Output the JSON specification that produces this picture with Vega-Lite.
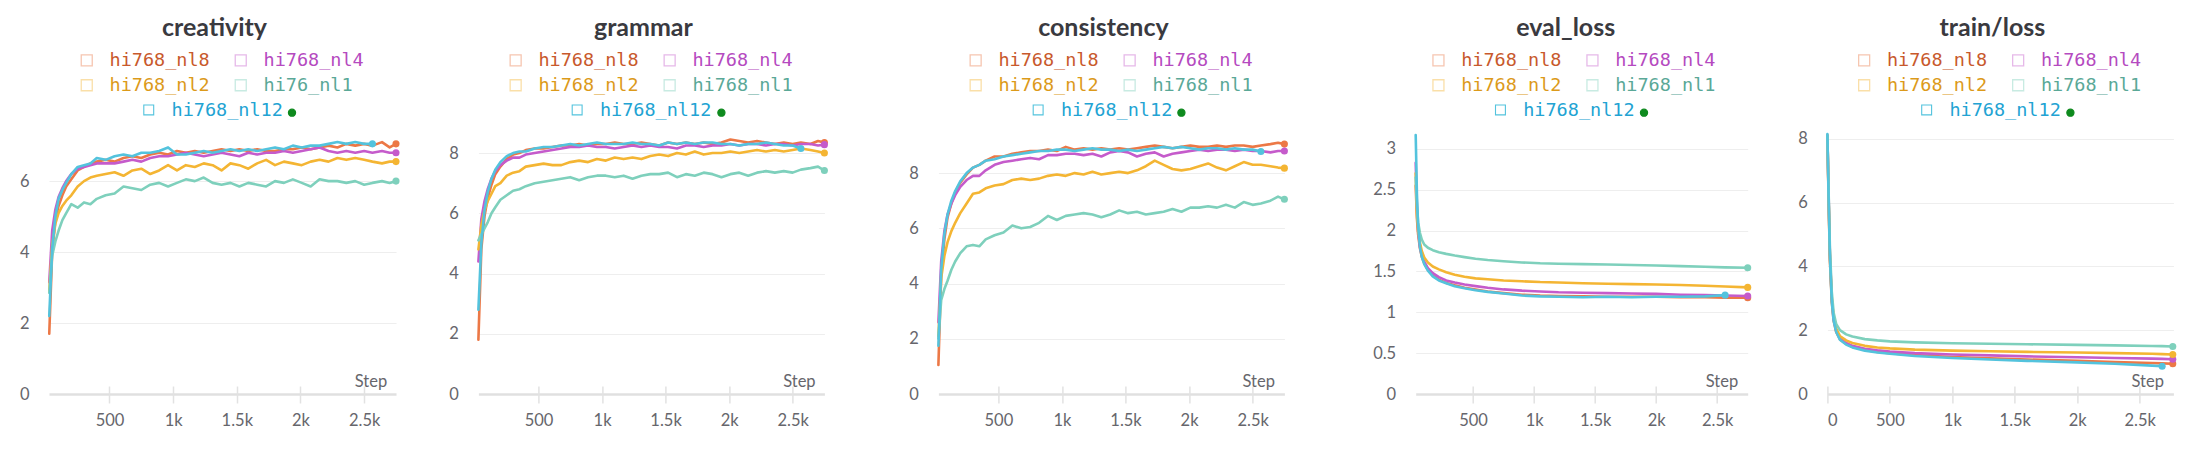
{
  "$schema": "https://vega.github.io/schema/vega-lite/v6.json",
  "padding": {"left": 19, "top": 16, "right": 0, "bottom": 0},
  "config": {
    "view": {"stroke": null},
    "font": "Lato",
    "title": {"font": "Lato", "fontSize": 25, "fontWeight": "bold", "color": "#3a3a3f", "frame": "group", "anchor": "middle", "offset": 10, "baseline": "alphabetic", "dx": -8},
    "axis": {"labelFont": "Lato", "labelFontSize": 16.5, "labelColor": "#66666c", "titleFont": "Lato", "titleFontSize": 16.5, "titleFontWeight": "normal", "titleColor": "#66666c"},
    "axisX": {"domain": false, "offset": -8, "tickSize": 17, "tickColor": "#e2e2e2", "tickWidth": 1.5, "labelPadding": 9, "grid": false, "titleAlign": "right", "titleBaseline": "alphabetic", "titleY": 0},
    "axisY": {"domain": false, "ticks": false, "labelPadding": 20},
    "legend": {"orient": "none", "direction": "horizontal", "padding": 0, "labelFont": "DejaVu Sans Mono", "labelFontSize": 18.5, "symbolType": "square", "symbolSize": 121, "symbolStrokeWidth": 1.3, "labelOffset": 13.5, "rowPadding": 6, "columnPadding": 21, "columns": 2, "labelLimit": 300}
  },
  "datasets": {
    "runs": [
      {"metric":"creativity","step":27,"nl8":1.7,"nl4":3.15,"nl2":2.9,"nl1":2.85,"nl12":2.2},
      {"metric":"creativity","step":50,"nl8":4.0,"nl4":4.6,"nl2":4.2,"nl1":3.9,"nl12":4.1},
      {"metric":"creativity","step":75,"nl8":4.9,"nl4":5.2,"nl2":4.8,"nl1":4.3,"nl12":5.0},
      {"metric":"creativity","step":100,"nl8":5.3,"nl4":5.55,"nl2":5.1,"nl1":4.6,"nl12":5.5},
      {"metric":"creativity","step":130,"nl8":5.6,"nl4":5.8,"nl2":5.3,"nl1":4.9,"nl12":5.75},
      {"metric":"creativity","step":160,"nl8":5.85,"nl4":6.0,"nl2":5.45,"nl1":5.1,"nl12":5.95},
      {"metric":"creativity","step":200,"nl8":6.05,"nl4":6.2,"nl2":5.6,"nl1":5.35,"nl12":6.2},
      {"metric":"creativity","step":250,"nl8":6.3,"nl4":6.35,"nl2":5.85,"nl1":5.25,"nl12":6.4},
      {"metric":"creativity","step":300,"nl8":6.4,"nl4":6.4,"nl2":6.0,"nl1":5.4,"nl12":6.45},
      {"metric":"creativity","step":350,"nl8":6.5,"nl4":6.45,"nl2":6.1,"nl1":5.35,"nl12":6.5},
      {"metric":"creativity","step":400,"nl8":6.55,"nl4":6.5,"nl2":6.15,"nl1":5.5,"nl12":6.65},
      {"metric":"creativity","step":470,"nl8":6.6,"nl4":6.5,"nl2":6.2,"nl1":5.6,"nl12":6.6},
      {"metric":"creativity","step":540,"nl8":6.55,"nl4":6.5,"nl2":6.25,"nl1":5.65,"nl12":6.7},
      {"metric":"creativity","step":610,"nl8":6.65,"nl4":6.55,"nl2":6.15,"nl1":5.85,"nl12":6.75},
      {"metric":"creativity","step":680,"nl8":6.7,"nl4":6.6,"nl2":6.3,"nl1":5.8,"nl12":6.7},
      {"metric":"creativity","step":750,"nl8":6.65,"nl4":6.55,"nl2":6.35,"nl1":5.75,"nl12":6.8},
      {"metric":"creativity","step":820,"nl8":6.75,"nl4":6.65,"nl2":6.2,"nl1":5.9,"nl12":6.8},
      {"metric":"creativity","step":890,"nl8":6.8,"nl4":6.7,"nl2":6.3,"nl1":5.95,"nl12":6.85},
      {"metric":"creativity","step":960,"nl8":6.75,"nl4":6.7,"nl2":6.45,"nl1":5.85,"nl12":6.95},
      {"metric":"creativity","step":1030,"nl8":6.85,"nl4":6.75,"nl2":6.3,"nl1":5.95,"nl12":6.75},
      {"metric":"creativity","step":1100,"nl8":6.8,"nl4":6.8,"nl2":6.45,"nl1":6.05,"nl12":6.75},
      {"metric":"creativity","step":1170,"nl8":6.85,"nl4":6.75,"nl2":6.4,"nl1":6.0,"nl12":6.8},
      {"metric":"creativity","step":1240,"nl8":6.8,"nl4":6.7,"nl2":6.5,"nl1":6.1,"nl12":6.85},
      {"metric":"creativity","step":1310,"nl8":6.85,"nl4":6.75,"nl2":6.45,"nl1":5.95,"nl12":6.8},
      {"metric":"creativity","step":1380,"nl8":6.9,"nl4":6.8,"nl2":6.3,"nl1":5.9,"nl12":6.85},
      {"metric":"creativity","step":1450,"nl8":6.85,"nl4":6.75,"nl2":6.5,"nl1":5.95,"nl12":6.9},
      {"metric":"creativity","step":1520,"nl8":6.9,"nl4":6.7,"nl2":6.45,"nl1":5.85,"nl12":6.85},
      {"metric":"creativity","step":1590,"nl8":6.85,"nl4":6.8,"nl2":6.35,"nl1":5.95,"nl12":6.9},
      {"metric":"creativity","step":1660,"nl8":6.9,"nl4":6.75,"nl2":6.5,"nl1":5.9,"nl12":6.85},
      {"metric":"creativity","step":1730,"nl8":6.85,"nl4":6.8,"nl2":6.6,"nl1":5.85,"nl12":6.9},
      {"metric":"creativity","step":1800,"nl8":6.85,"nl4":6.8,"nl2":6.45,"nl1":6.0,"nl12":6.95},
      {"metric":"creativity","step":1870,"nl8":6.9,"nl4":6.85,"nl2":6.55,"nl1":5.95,"nl12":6.9},
      {"metric":"creativity","step":1940,"nl8":6.9,"nl4":6.8,"nl2":6.5,"nl1":6.05,"nl12":7.0},
      {"metric":"creativity","step":2010,"nl8":6.95,"nl4":6.85,"nl2":6.45,"nl1":5.95,"nl12":6.95},
      {"metric":"creativity","step":2080,"nl8":6.9,"nl4":6.9,"nl2":6.55,"nl1":5.85,"nl12":7.0},
      {"metric":"creativity","step":2150,"nl8":6.95,"nl4":6.95,"nl2":6.6,"nl1":6.05,"nl12":7.0},
      {"metric":"creativity","step":2220,"nl8":7.0,"nl4":6.85,"nl2":6.55,"nl1":6.0,"nl12":7.05},
      {"metric":"creativity","step":2290,"nl8":6.95,"nl4":6.8,"nl2":6.65,"nl1":6.0,"nl12":7.1},
      {"metric":"creativity","step":2360,"nl8":7.05,"nl4":6.85,"nl2":6.6,"nl1":5.95,"nl12":7.05},
      {"metric":"creativity","step":2430,"nl8":7.0,"nl4":6.8,"nl2":6.65,"nl1":6.0,"nl12":7.1},
      {"metric":"creativity","step":2500,"nl8":7.05,"nl4":6.85,"nl2":6.6,"nl1":5.9,"nl12":7.05},
      {"metric":"creativity","step":2565,"nl8":7.0,"nl4":6.8,"nl2":6.55,"nl1":5.95,"nl12":7.05},
      {"metric":"creativity","step":2640,"nl8":7.1,"nl4":6.85,"nl2":6.5,"nl1":6.0},
      {"metric":"creativity","step":2700,"nl8":6.95,"nl4":6.8,"nl2":6.55,"nl1":5.95},
      {"metric":"creativity","step":2750,"nl8":7.05,"nl4":6.8,"nl2":6.55,"nl1":6.0},

      {"metric":"grammar","step":27,"nl8":1.8,"nl4":4.4,"nl2":4.8,"nl1":5.1,"nl12":2.8},
      {"metric":"grammar","step":50,"nl8":4.8,"nl4":5.8,"nl2":5.6,"nl1":5.3,"nl12":5.0},
      {"metric":"grammar","step":75,"nl8":5.9,"nl4":6.4,"nl2":6.1,"nl1":5.5,"nl12":6.1},
      {"metric":"grammar","step":100,"nl8":6.5,"nl4":6.8,"nl2":6.4,"nl1":5.7,"nl12":6.7},
      {"metric":"grammar","step":130,"nl8":6.95,"nl4":7.15,"nl2":6.65,"nl1":6.0,"nl12":7.15},
      {"metric":"grammar","step":160,"nl8":7.3,"nl4":7.4,"nl2":6.9,"nl1":6.2,"nl12":7.45},
      {"metric":"grammar","step":200,"nl8":7.55,"nl4":7.6,"nl2":7.0,"nl1":6.45,"nl12":7.7},
      {"metric":"grammar","step":250,"nl8":7.8,"nl4":7.75,"nl2":7.25,"nl1":6.6,"nl12":7.9},
      {"metric":"grammar","step":300,"nl8":7.95,"nl4":7.85,"nl2":7.35,"nl1":6.75,"nl12":8.0},
      {"metric":"grammar","step":350,"nl8":8.0,"nl4":7.85,"nl2":7.4,"nl1":6.8,"nl12":8.05},
      {"metric":"grammar","step":400,"nl8":8.1,"nl4":7.95,"nl2":7.55,"nl1":6.9,"nl12":8.05},
      {"metric":"grammar","step":470,"nl8":8.15,"nl4":8.0,"nl2":7.6,"nl1":7.0,"nl12":8.15},
      {"metric":"grammar","step":540,"nl8":8.15,"nl4":8.05,"nl2":7.65,"nl1":7.05,"nl12":8.2},
      {"metric":"grammar","step":610,"nl8":8.2,"nl4":8.1,"nl2":7.6,"nl1":7.1,"nl12":8.2},
      {"metric":"grammar","step":680,"nl8":8.25,"nl4":8.15,"nl2":7.6,"nl1":7.15,"nl12":8.25},
      {"metric":"grammar","step":750,"nl8":8.25,"nl4":8.2,"nl2":7.7,"nl1":7.2,"nl12":8.3},
      {"metric":"grammar","step":820,"nl8":8.3,"nl4":8.2,"nl2":7.75,"nl1":7.1,"nl12":8.25},
      {"metric":"grammar","step":890,"nl8":8.25,"nl4":8.25,"nl2":7.7,"nl1":7.2,"nl12":8.3},
      {"metric":"grammar","step":960,"nl8":8.3,"nl4":8.2,"nl2":7.8,"nl1":7.25,"nl12":8.35},
      {"metric":"grammar","step":1030,"nl8":8.3,"nl4":8.2,"nl2":7.75,"nl1":7.25,"nl12":8.3},
      {"metric":"grammar","step":1100,"nl8":8.35,"nl4":8.15,"nl2":7.85,"nl1":7.2,"nl12":8.3},
      {"metric":"grammar","step":1170,"nl8":8.3,"nl4":8.2,"nl2":7.8,"nl1":7.25,"nl12":8.3},
      {"metric":"grammar","step":1240,"nl8":8.3,"nl4":8.25,"nl2":7.85,"nl1":7.15,"nl12":8.35},
      {"metric":"grammar","step":1310,"nl8":8.35,"nl4":8.2,"nl2":7.8,"nl1":7.25,"nl12":8.3},
      {"metric":"grammar","step":1380,"nl8":8.3,"nl4":8.25,"nl2":7.9,"nl1":7.3,"nl12":8.3},
      {"metric":"grammar","step":1450,"nl8":8.25,"nl4":8.2,"nl2":7.95,"nl1":7.3,"nl12":8.25},
      {"metric":"grammar","step":1520,"nl8":8.35,"nl4":8.2,"nl2":7.9,"nl1":7.35,"nl12":8.35},
      {"metric":"grammar","step":1590,"nl8":8.3,"nl4":8.15,"nl2":8.0,"nl1":7.2,"nl12":8.3},
      {"metric":"grammar","step":1660,"nl8":8.35,"nl4":8.25,"nl2":7.95,"nl1":7.3,"nl12":8.35},
      {"metric":"grammar","step":1730,"nl8":8.3,"nl4":8.25,"nl2":8.05,"nl1":7.25,"nl12":8.3},
      {"metric":"grammar","step":1800,"nl8":8.35,"nl4":8.2,"nl2":7.95,"nl1":7.35,"nl12":8.35},
      {"metric":"grammar","step":1870,"nl8":8.3,"nl4":8.25,"nl2":8.0,"nl1":7.3,"nl12":8.35},
      {"metric":"grammar","step":1940,"nl8":8.35,"nl4":8.25,"nl2":8.0,"nl1":7.2,"nl12":8.3},
      {"metric":"grammar","step":2010,"nl8":8.45,"nl4":8.3,"nl2":8.05,"nl1":7.3,"nl12":8.3},
      {"metric":"grammar","step":2080,"nl8":8.4,"nl4":8.25,"nl2":8.0,"nl1":7.35,"nl12":8.25},
      {"metric":"grammar","step":2150,"nl8":8.35,"nl4":8.3,"nl2":8.05,"nl1":7.25,"nl12":8.3},
      {"metric":"grammar","step":2220,"nl8":8.4,"nl4":8.3,"nl2":8.1,"nl1":7.35,"nl12":8.3},
      {"metric":"grammar","step":2290,"nl8":8.35,"nl4":8.25,"nl2":8.05,"nl1":7.4,"nl12":8.35},
      {"metric":"grammar","step":2360,"nl8":8.3,"nl4":8.3,"nl2":8.1,"nl1":7.35,"nl12":8.3},
      {"metric":"grammar","step":2430,"nl8":8.35,"nl4":8.3,"nl2":8.05,"nl1":7.4,"nl12":8.25},
      {"metric":"grammar","step":2500,"nl8":8.3,"nl4":8.25,"nl2":8.1,"nl1":7.35,"nl12":8.25},
      {"metric":"grammar","step":2565,"nl8":8.35,"nl4":8.3,"nl2":8.15,"nl1":7.45,"nl12":8.15},
      {"metric":"grammar","step":2640,"nl8":8.3,"nl4":8.3,"nl2":8.1,"nl1":7.5},
      {"metric":"grammar","step":2700,"nl8":8.4,"nl4":8.25,"nl2":8.05,"nl1":7.55},
      {"metric":"grammar","step":2750,"nl8":8.35,"nl4":8.28,"nl2":8.0,"nl1":7.42},

      {"metric":"consistency","step":28,"nl8":1.05,"nl4":2.6,"nl2":2.1,"nl1":2.0,"nl12":1.75},
      {"metric":"consistency","step":50,"nl8":4.3,"nl4":4.8,"nl2":4.2,"nl1":3.4,"nl12":4.5},
      {"metric":"consistency","step":75,"nl8":5.6,"nl4":5.9,"nl2":5.0,"nl1":3.8,"nl12":5.8},
      {"metric":"consistency","step":100,"nl8":6.4,"nl4":6.5,"nl2":5.5,"nl1":4.1,"nl12":6.5},
      {"metric":"consistency","step":130,"nl8":6.9,"nl4":6.9,"nl2":5.9,"nl1":4.5,"nl12":7.0},
      {"metric":"consistency","step":160,"nl8":7.3,"nl4":7.2,"nl2":6.2,"nl1":4.8,"nl12":7.35},
      {"metric":"consistency","step":200,"nl8":7.65,"nl4":7.5,"nl2":6.55,"nl1":5.1,"nl12":7.7},
      {"metric":"consistency","step":250,"nl8":7.95,"nl4":7.75,"nl2":6.9,"nl1":5.35,"nl12":8.0},
      {"metric":"consistency","step":300,"nl8":8.2,"nl4":7.9,"nl2":7.25,"nl1":5.4,"nl12":8.2},
      {"metric":"consistency","step":350,"nl8":8.3,"nl4":7.9,"nl2":7.3,"nl1":5.35,"nl12":8.3},
      {"metric":"consistency","step":400,"nl8":8.45,"nl4":8.1,"nl2":7.45,"nl1":5.6,"nl12":8.45},
      {"metric":"consistency","step":470,"nl8":8.6,"nl4":8.3,"nl2":7.55,"nl1":5.75,"nl12":8.5},
      {"metric":"consistency","step":540,"nl8":8.6,"nl4":8.4,"nl2":7.6,"nl1":5.85,"nl12":8.6},
      {"metric":"consistency","step":610,"nl8":8.7,"nl4":8.45,"nl2":7.75,"nl1":6.1,"nl12":8.65},
      {"metric":"consistency","step":680,"nl8":8.75,"nl4":8.5,"nl2":7.8,"nl1":6.0,"nl12":8.7},
      {"metric":"consistency","step":750,"nl8":8.8,"nl4":8.55,"nl2":7.75,"nl1":6.05,"nl12":8.75},
      {"metric":"consistency","step":820,"nl8":8.8,"nl4":8.5,"nl2":7.8,"nl1":6.2,"nl12":8.8},
      {"metric":"consistency","step":890,"nl8":8.85,"nl4":8.65,"nl2":7.9,"nl1":6.45,"nl12":8.8},
      {"metric":"consistency","step":960,"nl8":8.8,"nl4":8.65,"nl2":7.95,"nl1":6.3,"nl12":8.85},
      {"metric":"consistency","step":1030,"nl8":8.95,"nl4":8.7,"nl2":7.9,"nl1":6.45,"nl12":8.85},
      {"metric":"consistency","step":1100,"nl8":8.85,"nl4":8.7,"nl2":8.0,"nl1":6.5,"nl12":8.8},
      {"metric":"consistency","step":1170,"nl8":8.9,"nl4":8.65,"nl2":7.95,"nl1":6.55,"nl12":8.85},
      {"metric":"consistency","step":1240,"nl8":8.85,"nl4":8.7,"nl2":8.05,"nl1":6.5,"nl12":8.9},
      {"metric":"consistency","step":1310,"nl8":8.9,"nl4":8.6,"nl2":7.95,"nl1":6.4,"nl12":8.85},
      {"metric":"consistency","step":1380,"nl8":8.85,"nl4":8.75,"nl2":8.0,"nl1":6.5,"nl12":8.85},
      {"metric":"consistency","step":1450,"nl8":8.9,"nl4":8.8,"nl2":8.05,"nl1":6.65,"nl12":8.8},
      {"metric":"consistency","step":1520,"nl8":8.85,"nl4":8.75,"nl2":8.0,"nl1":6.55,"nl12":8.85},
      {"metric":"consistency","step":1590,"nl8":8.9,"nl4":8.6,"nl2":8.1,"nl1":6.6,"nl12":8.8},
      {"metric":"consistency","step":1660,"nl8":8.95,"nl4":8.7,"nl2":8.25,"nl1":6.5,"nl12":8.85},
      {"metric":"consistency","step":1730,"nl8":9.0,"nl4":8.75,"nl2":8.45,"nl1":6.55,"nl12":8.9},
      {"metric":"consistency","step":1800,"nl8":8.95,"nl4":8.6,"nl2":8.3,"nl1":6.6,"nl12":8.95},
      {"metric":"consistency","step":1870,"nl8":8.9,"nl4":8.7,"nl2":8.15,"nl1":6.7,"nl12":8.9},
      {"metric":"consistency","step":1940,"nl8":8.95,"nl4":8.75,"nl2":8.1,"nl1":6.6,"nl12":8.95},
      {"metric":"consistency","step":2010,"nl8":9.0,"nl4":8.8,"nl2":8.15,"nl1":6.75,"nl12":8.9},
      {"metric":"consistency","step":2080,"nl8":8.95,"nl4":8.85,"nl2":8.25,"nl1":6.75,"nl12":8.85},
      {"metric":"consistency","step":2150,"nl8":8.95,"nl4":8.8,"nl2":8.35,"nl1":6.8,"nl12":8.9},
      {"metric":"consistency","step":2220,"nl8":9.0,"nl4":8.85,"nl2":8.2,"nl1":6.75,"nl12":8.9},
      {"metric":"consistency","step":2290,"nl8":8.95,"nl4":8.85,"nl2":8.1,"nl1":6.85,"nl12":8.85},
      {"metric":"consistency","step":2360,"nl8":9.0,"nl4":8.8,"nl2":8.25,"nl1":6.75,"nl12":8.9},
      {"metric":"consistency","step":2430,"nl8":9.0,"nl4":8.85,"nl2":8.4,"nl1":6.95,"nl12":8.85},
      {"metric":"consistency","step":2500,"nl8":8.95,"nl4":8.8,"nl2":8.3,"nl1":6.85,"nl12":8.85},
      {"metric":"consistency","step":2565,"nl8":9.0,"nl4":8.8,"nl2":8.3,"nl1":6.9,"nl12":8.78},
      {"metric":"consistency","step":2640,"nl8":9.05,"nl4":8.75,"nl2":8.25,"nl1":7.0},
      {"metric":"consistency","step":2700,"nl8":9.1,"nl4":8.8,"nl2":8.2,"nl1":7.15},
      {"metric":"consistency","step":2750,"nl8":9.05,"nl4":8.8,"nl2":8.18,"nl1":7.05},

      {"metric":"eval_loss","step":30,"nl8":2.55,"nl4":2.83,"nl2":2.7,"nl1":2.65,"nl12":3.17},
      {"metric":"eval_loss","step":40,"nl8":2.15,"nl4":2.3,"nl2":2.2,"nl1":2.3,"nl12":2.45},
      {"metric":"eval_loss","step":50,"nl8":1.95,"nl4":2.0,"nl2":2.0,"nl1":2.1,"nl12":2.05},
      {"metric":"eval_loss","step":65,"nl8":1.78,"nl4":1.8,"nl2":1.85,"nl1":1.97,"nl12":1.8},
      {"metric":"eval_loss","step":80,"nl8":1.68,"nl4":1.7,"nl2":1.75,"nl1":1.89,"nl12":1.68},
      {"metric":"eval_loss","step":100,"nl8":1.6,"nl4":1.62,"nl2":1.67,"nl1":1.83,"nl12":1.59},
      {"metric":"eval_loss","step":130,"nl8":1.52,"nl4":1.54,"nl2":1.61,"nl1":1.79,"nl12":1.51},
      {"metric":"eval_loss","step":170,"nl8":1.45,"nl4":1.48,"nl2":1.56,"nl1":1.76,"nl12":1.44},
      {"metric":"eval_loss","step":220,"nl8":1.4,"nl4":1.43,"nl2":1.525,"nl1":1.735,"nl12":1.39},
      {"metric":"eval_loss","step":280,"nl8":1.36,"nl4":1.39,"nl2":1.49,"nl1":1.715,"nl12":1.355},
      {"metric":"eval_loss","step":350,"nl8":1.33,"nl4":1.365,"nl2":1.46,"nl1":1.695,"nl12":1.32},
      {"metric":"eval_loss","step":430,"nl8":1.3,"nl4":1.34,"nl2":1.435,"nl1":1.675,"nl12":1.295},
      {"metric":"eval_loss","step":520,"nl8":1.28,"nl4":1.32,"nl2":1.415,"nl1":1.655,"nl12":1.27},
      {"metric":"eval_loss","step":620,"nl8":1.255,"nl4":1.3,"nl2":1.405,"nl1":1.64,"nl12":1.25},
      {"metric":"eval_loss","step":750,"nl8":1.235,"nl4":1.28,"nl2":1.39,"nl1":1.625,"nl12":1.23},
      {"metric":"eval_loss","step":900,"nl8":1.215,"nl4":1.265,"nl2":1.38,"nl1":1.61,"nl12":1.205},
      {"metric":"eval_loss","step":1050,"nl8":1.205,"nl4":1.255,"nl2":1.37,"nl1":1.6,"nl12":1.195},
      {"metric":"eval_loss","step":1200,"nl8":1.2,"nl4":1.245,"nl2":1.365,"nl1":1.595,"nl12":1.19},
      {"metric":"eval_loss","step":1400,"nl8":1.195,"nl4":1.24,"nl2":1.355,"nl1":1.59,"nl12":1.185},
      {"metric":"eval_loss","step":1600,"nl8":1.19,"nl4":1.235,"nl2":1.35,"nl1":1.585,"nl12":1.19},
      {"metric":"eval_loss","step":1800,"nl8":1.19,"nl4":1.23,"nl2":1.345,"nl1":1.578,"nl12":1.185},
      {"metric":"eval_loss","step":2000,"nl8":1.19,"nl4":1.225,"nl2":1.34,"nl1":1.572,"nl12":1.19},
      {"metric":"eval_loss","step":2200,"nl8":1.185,"nl4":1.215,"nl2":1.335,"nl1":1.565,"nl12":1.19},
      {"metric":"eval_loss","step":2400,"nl8":1.185,"nl4":1.21,"nl2":1.325,"nl1":1.558,"nl12":1.195},
      {"metric":"eval_loss","step":2565,"nl8":1.18,"nl4":1.205,"nl2":1.315,"nl1":1.55,"nl12":1.21},
      {"metric":"eval_loss","step":2750,"nl8":1.178,"nl4":1.2,"nl2":1.305,"nl1":1.545},

      {"metric":"train/loss","step":0,"nl8":8.1,"nl4":8.1,"nl2":8.1,"nl1":8.1,"nl12":8.15},
      {"metric":"train/loss","step":10,"nl8":6.0,"nl4":6.2,"nl2":6.1,"nl1":6.3,"nl12":6.1},
      {"metric":"train/loss","step":20,"nl8":4.2,"nl4":4.4,"nl2":4.3,"nl1":4.6,"nl12":4.3},
      {"metric":"train/loss","step":35,"nl8":2.9,"nl4":3.0,"nl2":3.0,"nl1":3.2,"nl12":2.9},
      {"metric":"train/loss","step":50,"nl8":2.3,"nl4":2.35,"nl2":2.4,"nl1":2.55,"nl12":2.3},
      {"metric":"train/loss","step":70,"nl8":1.95,"nl4":2.0,"nl2":2.05,"nl1":2.2,"nl12":1.95},
      {"metric":"train/loss","step":100,"nl8":1.72,"nl4":1.75,"nl2":1.82,"nl1":2.0,"nl12":1.7},
      {"metric":"train/loss","step":150,"nl8":1.57,"nl4":1.6,"nl2":1.68,"nl1":1.87,"nl12":1.55},
      {"metric":"train/loss","step":200,"nl8":1.48,"nl4":1.51,"nl2":1.6,"nl1":1.8,"nl12":1.46},
      {"metric":"train/loss","step":300,"nl8":1.38,"nl4":1.42,"nl2":1.51,"nl1":1.72,"nl12":1.36},
      {"metric":"train/loss","step":400,"nl8":1.32,"nl4":1.37,"nl2":1.46,"nl1":1.68,"nl12":1.3},
      {"metric":"train/loss","step":500,"nl8":1.28,"nl4":1.33,"nl2":1.43,"nl1":1.65,"nl12":1.26},
      {"metric":"train/loss","step":700,"nl8":1.22,"nl4":1.28,"nl2":1.39,"nl1":1.62,"nl12":1.19},
      {"metric":"train/loss","step":1000,"nl8":1.16,"nl4":1.24,"nl2":1.36,"nl1":1.59,"nl12":1.13},
      {"metric":"train/loss","step":1300,"nl8":1.12,"nl4":1.21,"nl2":1.34,"nl1":1.575,"nl12":1.08},
      {"metric":"train/loss","step":1600,"nl8":1.08,"nl4":1.18,"nl2":1.32,"nl1":1.56,"nl12":1.04},
      {"metric":"train/loss","step":2000,"nl8":1.04,"nl4":1.15,"nl2":1.3,"nl1":1.54,"nl12":0.99},
      {"metric":"train/loss","step":2300,"nl8":1.0,"nl4":1.13,"nl2":1.28,"nl1":1.525,"nl12":0.95},
      {"metric":"train/loss","step":2600,"nl8":0.97,"nl4":1.11,"nl2":1.26,"nl1":1.505,"nl12":0.89},
      {"metric":"train/loss","step":2680,"nl8":0.96,"nl4":1.1,"nl2":1.25,"nl1":1.5,"nl12":0.87},
      {"metric":"train/loss","step":2765,"nl8":0.95,"nl4":1.09,"nl2":1.24,"nl1":1.49}
    ]
  },
  "resolve": {"scale": {"x": "independent", "y": "independent", "color": "independent", "fill": "independent", "shape": "independent"}, "legend": {"color": "independent", "fill": "independent", "shape": "independent"}},
  "spacing": 45.4,
  "hconcat": [
    {
      "resolve": {"scale": {"x": "independent", "y": "independent", "color": "independent", "fill": "independent", "shape": "independent"}, "legend": {"color": "independent", "fill": "independent", "shape": "independent"}},
      "spacing": 83.7,
      "hconcat": [
        {
          "resolve": {"scale": {"x": "independent", "y": "independent", "color": "independent", "fill": "independent", "shape": "independent"}, "legend": {"color": "independent", "fill": "independent", "shape": "independent"}},
          "spacing": 80.4,
          "hconcat": [
            {
              "resolve": {"scale": {"x": "independent", "y": "independent", "color": "independent", "fill": "independent", "shape": "independent"}, "legend": {"color": "independent", "fill": "independent", "shape": "independent"}},
              "spacing": 48.4,
              "hconcat": [
                {
                  "title": {"text": "creativity"},
                  "width": 347, "height": 259,
                  "data": {"name": "runs"},
                  "transform": [
                    {"filter": "datum.metric === 'creativity'"},
                    {"fold": ["nl8", "nl4", "nl2", "nl1", "nl12"], "as": ["series", "value"]},
                    {"filter": "isValid(datum.value)"}
                  ],
                  "encoding": {
                    "x": {"field": "step", "type": "quantitative", "scale": {"domain": [25, 2750], "nice": false, "zero": false}, "axis": {"title": "Step", "values": [500, 1000, 1500, 2000, 2500], "labelExpr": "datum.value >= 1000 ? (datum.value / 1000) + 'k' : datum.label", "titleX": 337.7}},
                    "y": {"field": "value", "type": "quantitative", "scale": {"domain": [0, 7.3], "nice": false}, "axis": {"title": null, "values": [0, 2, 4, 6], "gridColor": {"condition": {"test": "datum.value === 0", "value": "#e0e0e0"}, "value": "#eeeeee"}, "gridWidth": {"condition": {"test": "datum.value === 0", "value": 2.5}, "value": 1.2}}}
                  },
                  "layer": [
                    {
                      "mark": {"type": "line", "strokeWidth": 2.6, "strokeJoin": "round", "strokeCap": "round"},
                      "encoding": {"color": {"field": "series", "type": "nominal", "scale": {"domain": ["nl8", "nl4", "nl2", "nl1", "nl12"], "range": ["#EC7846", "#C55BCB", "#F4B533", "#7ED0BC", "#53C3DD"]},
                        "legend": {"title": null, "values": ["nl8", "nl4", "nl2", "nl1"], "legendX": 28.5, "legendY": -84, "labelExpr": "datum.label === 'nl1' ? 'hi76_nl1' : 'hi768_' + datum.label",
                          "encode": {"labels": {"update": {"fill": {"signal": "datum.value==='nl8'?'#C8592C':datum.value==='nl4'?'#B54AC0':datum.value==='nl2'?'#DC9A1A':datum.value==='nl1'?'#5AA897':'#22A3D3'"}}},
                                     "symbols": {"update": {"fill": {"signal": "'transparent'"}, "strokeWidth": {"signal": "1.3"}, "opacity": {"signal": "0.42"}}}}}}}
                    },
                    {
                      "transform": [{"joinaggregate": [{"op": "max", "field": "step", "as": "last"}], "groupby": ["series"]}, {"filter": "datum.step === datum.last"}],
                      "mark": {"type": "point", "filled": true, "opacity": 1, "size": 50, "strokeWidth": 0},
                      "encoding": {
                        "fill": {"field": "series", "type": "nominal", "scale": {"domain": ["nl12", "nl8", "nl4", "nl2", "nl1"], "range": ["#53C3DD", "#EC7846", "#C55BCB", "#F4B533", "#7ED0BC"]},
                          "legend": {"title": null, "values": ["nl12"], "legendX": 90.5, "legendY": -34.5, "labelExpr": "'hi768_' + datum.label", "labelColor": "#22A3D3", "symbolType": "M-1,-1H1V1H-1Z M-0.8,-0.8V0.8H0.8V-0.8Z",
                            "encode": {"labels": {"update": {"fill": {"signal": "'#22A3D3'"}}}, "symbols": {"update": {"stroke": {"signal": "'transparent'"}, "opacity": {"signal": "0.45"}}}}}},
                        "shape": {"field": "series", "type": "nominal", "scale": {"domain": ["nl12", "nl1", "nl2", "nl4", "nl8"], "range": ["circle", "circle", "circle", "circle", "circle"]},
                          "legend": {"title": null, "values": ["nl12"], "legendX": 238.5, "legendY": -27, "labelExpr": "''", "labelFontSize": 1, "labelOffset": 0, "symbolSize": 50, "symbolType": "circle", "symbolFillColor": "#0E8A1E", "symbolStrokeColor": "#0E8A1E",
                            "encode": {"symbols": {"update": {"fill": {"signal": "'#0E8A1E'"}, "stroke": {"signal": "'#0E8A1E'"}, "opacity": {"signal": "1"}}}}}}
                      }
                    }
                  ]
                },
                {
                  "title": {"text": "grammar"},
                  "width": 346, "height": 259,
                  "data": {"name": "runs"},
                  "transform": [
                    {"filter": "datum.metric === 'grammar'"},
                    {"fold": ["nl8", "nl4", "nl2", "nl1", "nl12"], "as": ["series", "value"]},
                    {"filter": "isValid(datum.value)"}
                  ],
                  "encoding": {
                    "x": {"field": "step", "type": "quantitative", "scale": {"domain": [27, 2750], "nice": false, "zero": false}, "axis": {"title": "Step", "values": [500, 1000, 1500, 2000, 2500], "labelExpr": "datum.value >= 1000 ? (datum.value / 1000) + 'k' : datum.label", "titleX": 336.7}},
                    "y": {"field": "value", "type": "quantitative", "scale": {"domain": [0, 8.6], "nice": false}, "axis": {"title": null, "values": [0, 2, 4, 6, 8], "gridColor": {"condition": {"test": "datum.value === 0", "value": "#e0e0e0"}, "value": "#eeeeee"}, "gridWidth": {"condition": {"test": "datum.value === 0", "value": 2.5}, "value": 1.2}}}
                  },
                  "layer": [
                    {
                      "mark": {"type": "line", "strokeWidth": 2.6, "strokeJoin": "round", "strokeCap": "round"},
                      "encoding": {"color": {"field": "series", "type": "nominal", "scale": {"domain": ["nl8", "nl4", "nl2", "nl1", "nl12"], "range": ["#EC7846", "#C55BCB", "#F4B533", "#7ED0BC", "#53C3DD"]},
                        "legend": {"title": null, "values": ["nl8", "nl4", "nl2", "nl1"], "legendX": 28, "legendY": -84, "labelExpr": "'hi768_' + datum.label",
                          "encode": {"labels": {"update": {"fill": {"signal": "datum.value==='nl8'?'#C8592C':datum.value==='nl4'?'#B54AC0':datum.value==='nl2'?'#DC9A1A':datum.value==='nl1'?'#5AA897':'#22A3D3'"}}},
                                     "symbols": {"update": {"fill": {"signal": "'transparent'"}, "strokeWidth": {"signal": "1.3"}, "opacity": {"signal": "0.42"}}}}}}}
                    },
                    {
                      "transform": [{"joinaggregate": [{"op": "max", "field": "step", "as": "last"}], "groupby": ["series"]}, {"filter": "datum.step === datum.last"}],
                      "mark": {"type": "point", "filled": true, "opacity": 1, "size": 50, "strokeWidth": 0},
                      "encoding": {
                        "fill": {"field": "series", "type": "nominal", "scale": {"domain": ["nl12", "nl8", "nl4", "nl2", "nl1"], "range": ["#53C3DD", "#EC7846", "#C55BCB", "#F4B533", "#7ED0BC"]},
                          "legend": {"title": null, "values": ["nl12"], "legendX": 89.5, "legendY": -34.5, "labelExpr": "'hi768_' + datum.label", "labelColor": "#22A3D3", "symbolType": "M-1,-1H1V1H-1Z M-0.8,-0.8V0.8H0.8V-0.8Z",
                            "encode": {"labels": {"update": {"fill": {"signal": "'#22A3D3'"}}}, "symbols": {"update": {"stroke": {"signal": "'transparent'"}, "opacity": {"signal": "0.45"}}}}}},
                        "shape": {"field": "series", "type": "nominal", "scale": {"domain": ["nl12", "nl1", "nl2", "nl4", "nl8"], "range": ["circle", "circle", "circle", "circle", "circle"]},
                          "legend": {"title": null, "values": ["nl12"], "legendX": 238.5, "legendY": -27, "labelExpr": "''", "labelFontSize": 1, "labelOffset": 0, "symbolSize": 50, "symbolType": "circle", "symbolFillColor": "#0E8A1E", "symbolStrokeColor": "#0E8A1E",
                            "encode": {"symbols": {"update": {"fill": {"signal": "'#0E8A1E'"}, "stroke": {"signal": "'#0E8A1E'"}, "opacity": {"signal": "1"}}}}}}
                      }
                    }
                  ]
                }
              ]
            },
            {
              "title": {"text": "consistency"},
              "width": 346, "height": 259,
              "data": {"name": "runs"},
              "transform": [
                {"filter": "datum.metric === 'consistency'"},
                {"fold": ["nl8", "nl4", "nl2", "nl1", "nl12"], "as": ["series", "value"]},
                {"filter": "isValid(datum.value)"}
              ],
              "encoding": {
                "x": {"field": "step", "type": "quantitative", "scale": {"domain": [28, 2750], "nice": false, "zero": false}, "axis": {"title": "Step", "values": [500, 1000, 1500, 2000, 2500], "labelExpr": "datum.value >= 1000 ? (datum.value / 1000) + 'k' : datum.label", "titleX": 336}},
                "y": {"field": "value", "type": "quantitative", "scale": {"domain": [0, 9.38], "nice": false}, "axis": {"title": null, "values": [0, 2, 4, 6, 8], "gridColor": {"condition": {"test": "datum.value === 0", "value": "#e0e0e0"}, "value": "#eeeeee"}, "gridWidth": {"condition": {"test": "datum.value === 0", "value": 2.5}, "value": 1.2}}}
              },
              "layer": [
                {
                  "mark": {"type": "line", "strokeWidth": 2.6, "strokeJoin": "round", "strokeCap": "round"},
                  "encoding": {"color": {"field": "series", "type": "nominal", "scale": {"domain": ["nl8", "nl4", "nl2", "nl1", "nl12"], "range": ["#EC7846", "#C55BCB", "#F4B533", "#7ED0BC", "#53C3DD"]},
                    "legend": {"title": null, "values": ["nl8", "nl4", "nl2", "nl1"], "legendX": 28, "legendY": -84, "labelExpr": "'hi768_' + datum.label",
                      "encode": {"labels": {"update": {"fill": {"signal": "datum.value==='nl8'?'#C8592C':datum.value==='nl4'?'#B54AC0':datum.value==='nl2'?'#DC9A1A':datum.value==='nl1'?'#5AA897':'#22A3D3'"}}},
                                 "symbols": {"update": {"fill": {"signal": "'transparent'"}, "strokeWidth": {"signal": "1.3"}, "opacity": {"signal": "0.42"}}}}}}}
                },
                {
                  "transform": [{"joinaggregate": [{"op": "max", "field": "step", "as": "last"}], "groupby": ["series"]}, {"filter": "datum.step === datum.last"}],
                  "mark": {"type": "point", "filled": true, "opacity": 1, "size": 50, "strokeWidth": 0},
                  "encoding": {
                    "fill": {"field": "series", "type": "nominal", "scale": {"domain": ["nl12", "nl8", "nl4", "nl2", "nl1"], "range": ["#53C3DD", "#EC7846", "#C55BCB", "#F4B533", "#7ED0BC"]},
                      "legend": {"title": null, "values": ["nl12"], "legendX": 90.5, "legendY": -34.5, "labelExpr": "'hi768_' + datum.label", "labelColor": "#22A3D3", "symbolType": "M-1,-1H1V1H-1Z M-0.8,-0.8V0.8H0.8V-0.8Z",
                        "encode": {"labels": {"update": {"fill": {"signal": "'#22A3D3'"}}}, "symbols": {"update": {"stroke": {"signal": "'transparent'"}, "opacity": {"signal": "0.45"}}}}}},
                    "shape": {"field": "series", "type": "nominal", "scale": {"domain": ["nl12", "nl1", "nl2", "nl4", "nl8"], "range": ["circle", "circle", "circle", "circle", "circle"]},
                      "legend": {"title": null, "values": ["nl12"], "legendX": 238.5, "legendY": -27, "labelExpr": "''", "labelFontSize": 1, "labelOffset": 0, "symbolSize": 50, "symbolType": "circle", "symbolFillColor": "#0E8A1E", "symbolStrokeColor": "#0E8A1E",
                        "encode": {"symbols": {"update": {"fill": {"signal": "'#0E8A1E'"}, "stroke": {"signal": "'#0E8A1E'"}, "opacity": {"signal": "1"}}}}}}
                  }
                }
              ]
            }
          ]
        },
        {
          "title": {"text": "eval_loss", "dx": -16},
          "width": 332, "height": 259,
          "data": {"name": "runs"},
          "transform": [
            {"filter": "datum.metric === 'eval_loss'"},
            {"fold": ["nl8", "nl4", "nl2", "nl1", "nl12"], "as": ["series", "value"]},
            {"filter": "isValid(datum.value)"}
          ],
          "encoding": {
            "x": {"field": "step", "type": "quantitative", "scale": {"domain": [30, 2750], "nice": false, "zero": false}, "axis": {"title": "Step", "values": [500, 1000, 1500, 2000, 2500], "labelExpr": "datum.value >= 1000 ? (datum.value / 1000) + 'k' : datum.label", "titleX": 322}},
            "y": {"field": "value", "type": "quantitative", "scale": {"domain": [0, 3.17], "nice": false}, "axis": {"title": null, "values": [0, 0.5, 1, 1.5, 2, 2.5, 3], "labelExpr": "'' + datum.value", "gridColor": {"condition": {"test": "datum.value === 0", "value": "#e0e0e0"}, "value": "#eeeeee"}, "gridWidth": {"condition": {"test": "datum.value === 0", "value": 2.5}, "value": 1.2}}}
          },
          "layer": [
            {
              "mark": {"type": "line", "strokeWidth": 2.6, "strokeJoin": "round", "strokeCap": "round"},
              "encoding": {"color": {"field": "series", "type": "nominal", "scale": {"domain": ["nl8", "nl4", "nl2", "nl1", "nl12"], "range": ["#EC7846", "#C55BCB", "#F4B533", "#7ED0BC", "#53C3DD"]},
                "legend": {"title": null, "values": ["nl8", "nl4", "nl2", "nl1"], "legendX": 13.5, "legendY": -84, "labelExpr": "'hi768_' + datum.label",
                  "encode": {"labels": {"update": {"fill": {"signal": "datum.value==='nl8'?'#C8592C':datum.value==='nl4'?'#B54AC0':datum.value==='nl2'?'#DC9A1A':datum.value==='nl1'?'#5AA897':'#22A3D3'"}}},
                             "symbols": {"update": {"fill": {"signal": "'transparent'"}, "strokeWidth": {"signal": "1.3"}, "opacity": {"signal": "0.42"}}}}}}}
            },
            {
              "transform": [{"joinaggregate": [{"op": "max", "field": "step", "as": "last"}], "groupby": ["series"]}, {"filter": "datum.step === datum.last"}],
              "mark": {"type": "point", "filled": true, "opacity": 1, "size": 50, "strokeWidth": 0},
              "encoding": {
                "fill": {"field": "series", "type": "nominal", "scale": {"domain": ["nl12", "nl8", "nl4", "nl2", "nl1"], "range": ["#53C3DD", "#EC7846", "#C55BCB", "#F4B533", "#7ED0BC"]},
                  "legend": {"title": null, "values": ["nl12"], "legendX": 75.5, "legendY": -34.5, "labelExpr": "'hi768_' + datum.label", "labelColor": "#22A3D3", "symbolType": "M-1,-1H1V1H-1Z M-0.8,-0.8V0.8H0.8V-0.8Z",
                    "encode": {"labels": {"update": {"fill": {"signal": "'#22A3D3'"}}}, "symbols": {"update": {"stroke": {"signal": "'transparent'"}, "opacity": {"signal": "0.45"}}}}}},
                "shape": {"field": "series", "type": "nominal", "scale": {"domain": ["nl12", "nl1", "nl2", "nl4", "nl8"], "range": ["circle", "circle", "circle", "circle", "circle"]},
                  "legend": {"title": null, "values": ["nl12"], "legendX": 223.8, "legendY": -27, "labelExpr": "''", "labelFontSize": 1, "labelOffset": 0, "symbolSize": 50, "symbolType": "circle", "symbolFillColor": "#0E8A1E", "symbolStrokeColor": "#0E8A1E",
                    "encode": {"symbols": {"update": {"fill": {"signal": "'#0E8A1E'"}, "stroke": {"signal": "'#0E8A1E'"}, "opacity": {"signal": "1"}}}}}}
              }
            }
          ]
        }
      ]
    },
    {
      "title": {"text": "train/loss"},
      "width": 346, "height": 259,
      "data": {"name": "runs"},
      "transform": [
        {"filter": "datum.metric === 'train/loss'"},
        {"fold": ["nl8", "nl4", "nl2", "nl1", "nl12"], "as": ["series", "value"]},
        {"filter": "isValid(datum.value)"}
      ],
      "encoding": {
        "x": {"field": "step", "type": "quantitative", "scale": {"domain": [0, 2770], "nice": false, "zero": false}, "axis": {"title": "Step", "values": [0, 500, 1000, 1500, 2000, 2500], "labelExpr": "datum.value >= 1000 ? (datum.value / 1000) + 'k' : datum.label", "titleX": 336}},
        "y": {"field": "value", "type": "quantitative", "scale": {"domain": [0, 8.12], "nice": false}, "axis": {"title": null, "values": [0, 2, 4, 6, 8], "gridColor": {"condition": {"test": "datum.value === 0", "value": "#e0e0e0"}, "value": "#eeeeee"}, "gridWidth": {"condition": {"test": "datum.value === 0", "value": 2.5}, "value": 1.2}}}
      },
      "layer": [
        {
          "mark": {"type": "line", "strokeWidth": 2.6, "strokeJoin": "round", "strokeCap": "round"},
          "encoding": {"color": {"field": "series", "type": "nominal", "scale": {"domain": ["nl8", "nl4", "nl2", "nl1", "nl12"], "range": ["#EC7846", "#C55BCB", "#F4B533", "#7ED0BC", "#53C3DD"]},
            "legend": {"title": null, "values": ["nl8", "nl4", "nl2", "nl1"], "legendX": 27.5, "legendY": -84, "labelExpr": "'hi768_' + datum.label",
              "encode": {"labels": {"update": {"fill": {"signal": "datum.value==='nl8'?'#C8592C':datum.value==='nl4'?'#B54AC0':datum.value==='nl2'?'#DC9A1A':datum.value==='nl1'?'#5AA897':'#22A3D3'"}}},
                         "symbols": {"update": {"fill": {"signal": "'transparent'"}, "strokeWidth": {"signal": "1.3"}, "opacity": {"signal": "0.42"}}}}}}}
        },
        {
          "transform": [{"joinaggregate": [{"op": "max", "field": "step", "as": "last"}], "groupby": ["series"]}, {"filter": "datum.step === datum.last"}],
          "mark": {"type": "point", "filled": true, "opacity": 1, "size": 50, "strokeWidth": 0},
          "encoding": {
            "fill": {"field": "series", "type": "nominal", "scale": {"domain": ["nl12", "nl8", "nl4", "nl2", "nl1"], "range": ["#53C3DD", "#EC7846", "#C55BCB", "#F4B533", "#7ED0BC"]},
              "legend": {"title": null, "values": ["nl12"], "legendX": 90, "legendY": -34.5, "labelExpr": "'hi768_' + datum.label", "labelColor": "#22A3D3", "symbolType": "M-1,-1H1V1H-1Z M-0.8,-0.8V0.8H0.8V-0.8Z",
                "encode": {"labels": {"update": {"fill": {"signal": "'#22A3D3'"}}}, "symbols": {"update": {"stroke": {"signal": "'transparent'"}, "opacity": {"signal": "0.45"}}}}}},
            "shape": {"field": "series", "type": "nominal", "scale": {"domain": ["nl12", "nl1", "nl2", "nl4", "nl8"], "range": ["circle", "circle", "circle", "circle", "circle"]},
              "legend": {"title": null, "values": ["nl12"], "legendX": 238.5, "legendY": -27, "labelExpr": "''", "labelFontSize": 1, "labelOffset": 0, "symbolSize": 50, "symbolType": "circle", "symbolFillColor": "#0E8A1E", "symbolStrokeColor": "#0E8A1E",
                "encode": {"symbols": {"update": {"fill": {"signal": "'#0E8A1E'"}, "stroke": {"signal": "'#0E8A1E'"}, "opacity": {"signal": "1"}}}}}}
          }
        }
      ]
    }
  ]
}
